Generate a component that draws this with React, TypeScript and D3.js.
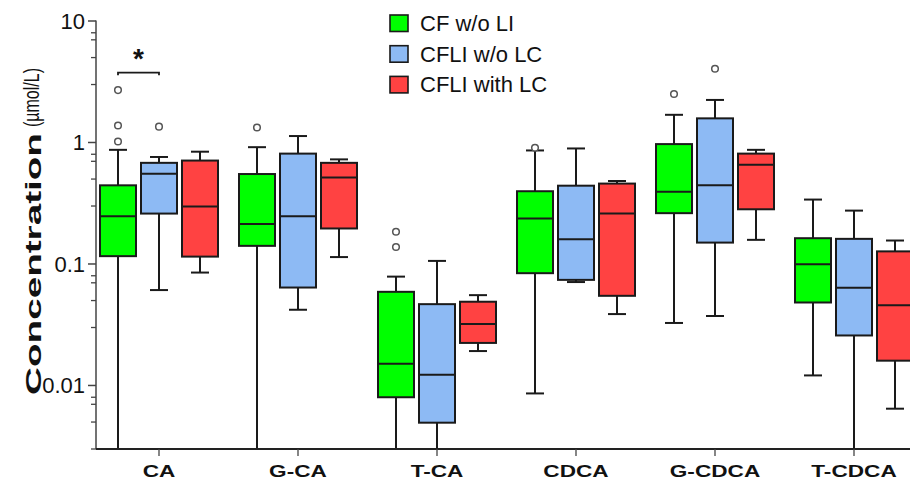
import React from "react";
import * as d3 from "d3";

const categories = ["CA", "G-CA", "T-CA", "CDCA", "G-CDCA", "T-CDCA"];
const seriesNames = ["CF w/o LI", "CFLI w/o LC", "CFLI with LC"];
const seriesColors = ["#00ff00", "#8dbaf4", "#ff4242"];

// CF w/o LI (green)
const greenLow = [0.002, 0.002, 0.002, 0.0086, 0.0327, 0.0121];
const greenQ1 = [0.116, 0.141, 0.008, 0.084, 0.262, 0.0482];
const greenMed = [0.247, 0.213, 0.0151, 0.237, 0.394, 0.0995];
const greenQ3 = [0.444, 0.55, 0.059, 0.397, 0.97, 0.163];
const greenHigh = [0.87, 0.915, 0.0787, 0.86, 1.69, 0.339];
const greenOut = [[2.7, 1.38, 1.02], [1.33], [0.184, 0.138], [0.904], [2.51], []];

// CFLI w/o LC (blue)
const blueLow = [0.061, 0.042, 0.002, 0.071, 0.0373, 0.002];
const blueQ1 = [0.26, 0.064, 0.00494, 0.074, 0.15, 0.0258];
const blueMed = [0.553, 0.247, 0.01225, 0.16, 0.444, 0.0636];
const blueQ3 = [0.68, 0.81, 0.0467, 0.441, 1.58, 0.161];
const blueHigh = [0.76, 1.13, 0.106, 0.893, 2.24, 0.275];
const blueOut = [[1.35], [], [], [], [4.04], []];

// CFLI with LC (red)
const redLow = [0.085, 0.114, 0.0192, 0.0387, 0.158, 0.00644];
const redQ1 = [0.115, 0.196, 0.0224, 0.0547, 0.282, 0.016];
const redMed = [0.297, 0.514, 0.032, 0.26, 0.657, 0.0458];
const redQ3 = [0.71, 0.68, 0.0489, 0.459, 0.81, 0.127];
const redHigh = [0.84, 0.726, 0.0554, 0.482, 0.87, 0.156];
const redOut = [[], [], [], [], [], []];

const majorTicks = [0.01, 0.1, 1, 10];
const majorLabels = ["0.01", "0.1", "1", "10"];
const minorMultipliers = [3, 5, 7, 8];

const yMin = 0.003;
const yMax = 10;

const FONT = "'Liberation Sans', Arial, Helvetica, sans-serif";

export default function App() {
  const W = 910;
  const H = 484;
  const left = 96;
  const bottom = 449;
  const top = 21;

  const y = d3.scaleLog().domain([yMin, yMax]).range([bottom, top]).clamp(true);
  const x = d3.scalePoint<string>().domain(categories).range([89.5, 923.5]).padding(0.5);
  const sub = d3
    .scaleBand<string>()
    .domain(seriesNames)
    .range([-61.5, 61.5])
    .paddingInner(5 / 41)
    .paddingOuter(2.5 / 41);

  const seriesData = [
    { low: greenLow, q1: greenQ1, med: greenMed, q3: greenQ3, high: greenHigh, out: greenOut },
    { low: blueLow, q1: blueQ1, med: blueMed, q3: blueQ3, high: blueHigh, out: blueOut },
    { low: redLow, q1: redQ1, med: redMed, q3: redQ3, high: redHigh, out: redOut },
  ];

  const minorTicks: number[] = [];
  [0.001, 0.01, 0.1, 1].forEach((dec) => {
    minorMultipliers.forEach((m) => {
      const v = dec * m;
      if (v >= yMin && v < yMax) minorTicks.push(v);
    });
  });

  const bw = sub.bandwidth();
  const capHalf = 9;
  const stroke = "#1a1a1a";

  const boxes: React.ReactNode[] = [];
  seriesData.forEach((s, si) => {
    categories.forEach((c, ci) => {
      const cx = (x(c) as number) + (sub(seriesNames[si]) as number) + bw / 2;
      const x0 = cx - bw / 2;
      const yl = y(s.low[ci]);
      const yh = y(s.high[ci]);
      const y1 = y(s.q1[ci]);
      const y3 = y(s.q3[ci]);
      const ym = y(s.med[ci]);
      const lowClipped = s.low[ci] < yMin;
      boxes.push(
        <g key={`b-${si}-${ci}`}>
          <line x1={cx} x2={cx} y1={yh} y2={y3} stroke={stroke} strokeWidth={2} />
          <line x1={cx} x2={cx} y1={y1} y2={yl} stroke={stroke} strokeWidth={2} />
          <line x1={cx - capHalf} x2={cx + capHalf} y1={yh} y2={yh} stroke={stroke} strokeWidth={2} />
          {!lowClipped && (
            <line x1={cx - capHalf} x2={cx + capHalf} y1={yl} y2={yl} stroke={stroke} strokeWidth={2} />
          )}
          <rect x={x0} y={y3} width={bw} height={y1 - y3} fill={seriesColors[si]} stroke={stroke} strokeWidth={2} />
          <line x1={x0} x2={x0 + bw} y1={ym} y2={ym} stroke={stroke} strokeWidth={2} />
          {s.out[ci].map((o, oi) => (
            <circle key={oi} cx={cx} cy={y(o)} r={3.3} fill="#fff" stroke="#555" strokeWidth={1.5} />
          ))}
        </g>
      );
    });
  });

  // significance bracket between CA green and CA blue
  const sigX1 = (x("CA") as number) + (sub(seriesNames[0]) as number) + bw / 2;
  const sigX2 = (x("CA") as number) + (sub(seriesNames[1]) as number) + bw / 2;
  const sigY = 72.7;

  return (
    <svg
      width={W}
      height={H}
      style={{ position: "absolute", left: 0, top: 0, background: "#fff" }}
      fontFamily={FONT}
    >
      <rect x={0} y={0} width={W} height={H} fill="#fff" />
      {/* y axis */}
      <line x1={left} x2={left} y1={top - 0.5} y2={bottom} stroke="#444" strokeWidth={1.5} />
      {majorTicks.map((t, i) => (
        <g key={`mt-${i}`}>
          <line x1={left - 8} x2={left} y1={y(t)} y2={y(t)} stroke="#444" strokeWidth={1.5} />
          <text x={85} y={y(t)} dy="0.36em" textAnchor="end" fontSize={22} fill="#111">
            {majorLabels[i]}
          </text>
        </g>
      ))}
      {minorTicks.map((t, i) => (
        <line key={`mn-${i}`} x1={left - 5} x2={left} y1={y(t)} y2={y(t)} stroke="#444" strokeWidth={1.3} />
      ))}
      {/* y title */}
      <text
        transform={`translate(41,395) rotate(-90)`}
        fontSize={22}
        fontWeight="bold"
        fill="#111"
        textLength={262}
        lengthAdjust="spacingAndGlyphs"
      >
        Concentration
      </text>
      <text
        transform={`translate(39,127) rotate(-90)`}
        fontSize={22}
        fill="#111"
        textLength={59}
        lengthAdjust="spacingAndGlyphs"
      >
        (µmol/L)
      </text>
      {/* boxes */}
      {boxes}
      {/* x axis */}
      <line x1={left} x2={W} y1={bottom} y2={bottom} stroke="#222" strokeWidth={1.8} />
      {categories.map((c) => (
        <g key={`xc-${c}`} transform={`translate(${x(c)},0)`}>
          <line x1={0} x2={0} y1={bottom} y2={bottom + 7} stroke="#444" strokeWidth={1.3} />
          <text
            transform={`translate(0,477) scale(1.33,1)`}
            textAnchor="middle"
            fontSize={17}
            fontWeight="bold"
            fill="#111"
          >
            {c}
          </text>
        </g>
      ))}
      {/* significance */}
      <path
        d={`M${sigX1},${sigY + 2.5}V${sigY}H${sigX2}V${sigY + 2.5}`}
        fill="none"
        stroke={stroke}
        strokeWidth={1.8}
      />
      <text x={(sigX1 + sigX2) / 2} y={68} textAnchor="middle" fontSize={28} fontWeight="bold" fill="#111">
        *
      </text>
      {/* legend */}
      {seriesNames.map((n, i) => (
        <g key={`lg-${i}`} transform={`translate(390,${23 + i * 30.7})`}>
          <rect x={0} y={-8} width={18} height={16.5} fill={seriesColors[i]} stroke="#1a1a1a" strokeWidth={1.6} />
          <text x={30} y={0} dy="0.36em" fontSize={22} fill="#111">
            {n}
          </text>
        </g>
      ))}
    </svg>
  );
}
